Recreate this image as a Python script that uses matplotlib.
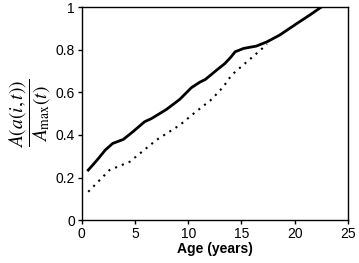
import matplotlib
matplotlib.use("Agg")
import matplotlib.pyplot as plt

plt.rcParams['font.family'] = ['Liberation Sans', 'DejaVu Sans']
plt.rcParams['mathtext.fontset'] = 'stix'

# solid curve
age_solid = [0.6, 1.4, 2.2, 2.9, 3.9, 4.8, 5.9, 6.55, 7.96, 9.2, 10.3, 11.1, 11.6,
             12.66, 13.44, 14.0, 14.4, 15.2, 16.4, 17.4, 18.6, 20.3, 21.4, 22.5]
val_solid = [0.235, 0.28, 0.329, 0.36, 0.379, 0.415, 0.462, 0.477, 0.52, 0.567,
             0.622, 0.648, 0.66, 0.704, 0.735, 0.765, 0.79, 0.806, 0.817, 0.837,
             0.869, 0.926, 0.962, 1.0]

# dotted curve
age_dot = [0.6, 2.6, 4.5, 7.0, 9.2, 10.5, 12.2, 13.3, 14.07, 15.5, 16.6, 17.4]
val_dot = [0.133, 0.235, 0.274, 0.376, 0.446, 0.50, 0.567, 0.626, 0.681, 0.743,
           0.79, 0.826]

fig = plt.figure(figsize=(3.59, 2.63), dpi=100)
ax = fig.add_axes([0.228, 0.163, 0.741, 0.81])
ax.plot(age_solid, val_solid, color='black', lw=2)
ax.plot(age_dot, val_dot, color='black', lw=1.5, linestyle=(0, (1, 2.5)))

ax.set_xlim(0, 25)
ax.set_ylim(0, 1)
ax.set_xticks([0, 5, 10, 15, 20, 25])
ax.set_yticks([0, 0.2, 0.4, 0.6, 0.8, 1])
ax.set_yticklabels(['0', '0.2', '0.4', '0.6', '0.8', '1'])
ax.tick_params(labelsize=10, length=3, width=1, pad=2)
for s in ax.spines.values():
    s.set_linewidth(1)

ax.set_xlabel('Age (years)', fontsize=10, fontweight='bold', labelpad=1)
ax.set_ylabel(r'$\dfrac{A(a(i,t))}{A_{\rm max}(t)}$', fontsize=14, labelpad=2)

fig.savefig('out.png', dpi=100)
plt.close()
